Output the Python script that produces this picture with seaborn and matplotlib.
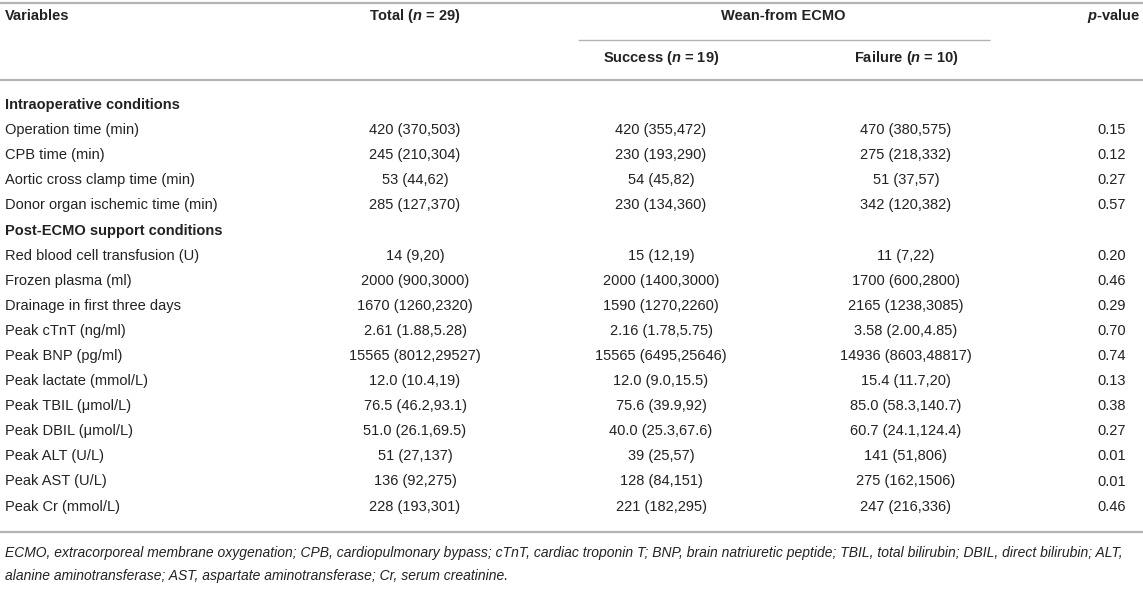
import matplotlib
matplotlib.use('Agg')
import matplotlib.pyplot as plt
import seaborn as sns

# Table: ECMO weaning outcomes, intraoperative and post-ECMO conditions

sections = ['Intraoperative conditions', 'Post-ECMO support conditions']

intra_vars = ['Operation time (min)', 'CPB time (min)',
              'Aortic cross clamp time (min)', 'Donor organ ischemic time (min)']
intra_total = ['420 (370,503)', '245 (210,304)', '53 (44,62)', '285 (127,370)']
intra_success = ['420 (355,472)', '230 (193,290)', '54 (45,82)', '230 (134,360)']
intra_failure = ['470 (380,575)', '275 (218,332)', '51 (37,57)', '342 (120,382)']
intra_p = ['0.15', '0.12', '0.27', '0.57']

post_vars = ['Red blood cell transfusion (U)', 'Frozen plasma (ml)',
             'Drainage in first three days', 'Peak cTnT (ng/ml)', 'Peak BNP (pg/ml)',
             'Peak lactate (mmol/L)', 'Peak TBIL (\u03bcmol/L)', 'Peak DBIL (\u03bcmol/L)',
             'Peak ALT (U/L)', 'Peak AST (U/L)', 'Peak Cr (mmol/L)']
post_total = ['14 (9,20)', '2000 (900,3000)', '1670 (1260,2320)', '2.61 (1.88,5.28)',
              '15565 (8012,29527)', '12.0 (10.4,19)', '76.5 (46.2,93.1)',
              '51.0 (26.1,69.5)', '51 (27,137)', '136 (92,275)', '228 (193,301)']
post_success = ['15 (12,19)', '2000 (1400,3000)', '1590 (1270,2260)', '2.16 (1.78,5.75)',
                '15565 (6495,25646)', '12.0 (9.0,15.5)', '75.6 (39.9,92)',
                '40.0 (25.3,67.6)', '39 (25,57)', '128 (84,151)', '221 (182,295)']
post_failure = ['11 (7,22)', '1700 (600,2800)', '2165 (1238,3085)', '3.58 (2.00,4.85)',
                '14936 (8603,48817)', '15.4 (11.7,20)', '85.0 (58.3,140.7)',
                '60.7 (24.1,124.4)', '141 (51,806)', '275 (162,1506)', '247 (216,336)']
post_p = ['0.20', '0.46', '0.29', '0.70', '0.74', '0.13', '0.38', '0.27', '0.01',
          '0.01', '0.46']

footnote = ['ECMO, extracorporeal membrane oxygenation; CPB, cardiopulmonary bypass; '
            'cTnT, cardiac troponin T; BNP, brain natriuretic peptide; TBIL, total bilirubin; '
            'DBIL, direct bilirubin; ALT,',
            'alanine aminotransferase; AST, aspartate aminotransferase; Cr, serum creatinine.']

sns.set_theme(style='white')
plt.rcParams['font.family'] = ['Liberation Sans', 'DejaVu Sans']
plt.rcParams['mathtext.fontset'] = 'custom'
plt.rcParams['mathtext.it'] = 'Liberation Sans:italic:bold'
plt.rcParams['mathtext.rm'] = 'Liberation Sans:bold'

W, H = 1143, 594
fig = plt.figure(figsize=(W / 100, H / 100), dpi=100)
ax = fig.add_axes([0, 0, 1, 1])
ax.set_xlim(0, W)
ax.set_ylim(H, 0)
ax.axis('off')

txt = '#222222'
rule = '#b3b3b3'
fs = 10.5

# column positions (pixels)
x_var = 5
x_total, x_succ, x_fail, x_p = 415, 661, 906, 1112

# header
hd = dict(va='center', fontsize=fs, fontweight='bold', color=txt)
ax.text(x_var, 16, 'Variables', ha='left', **hd)
ax.text(x_total, 16, 'Total ($n$ = 29)', ha='center', **hd)
ax.text((x_succ + x_fail) / 2, 16, 'Wean-from ECMO', ha='center', **hd)
ax.text(1140, 16, '$p$-value', ha='right', **hd)
ax.text(x_succ, 58, 'Success ($n$ = 19)', ha='center', **hd)
ax.text(x_fail, 58, 'Failure ($n$ = 10)', ha='center', **hd)

ax.plot([0, W], [3, 3], color=rule, lw=1.6, solid_capstyle='butt')
ax.plot([578, 990], [40, 40], color=rule, lw=1.0, solid_capstyle='butt')
ax.plot([0, W], [80, 80], color=rule, lw=1.6, solid_capstyle='butt')

y0, step = 105, 25.1
blocks = [
    (sections[0], intra_vars, intra_total, intra_success, intra_failure, intra_p),
    (sections[1], post_vars, post_total, post_success, post_failure, post_p),
]
bd = dict(va='center', fontsize=fs, color=txt)
i = 0
for title, names, tot, suc, fai, pv in blocks:
    y = y0 + i * step
    ax.text(x_var, y, title, ha='left', fontweight='bold', **bd)
    i += 1
    for n, a, b, c, p in zip(names, tot, suc, fai, pv):
        y = y0 + i * step
        ax.text(x_var, y, n, ha='left', **bd)
        ax.text(x_total, y, a, ha='center', **bd)
        ax.text(x_succ, y, b, ha='center', **bd)
        ax.text(x_fail, y, c, ha='center', **bd)
        ax.text(x_p, y, p, ha='center', **bd)
        i += 1

ax.plot([0, W], [532, 532], color=rule, lw=1.6, solid_capstyle='butt')

for k, line in enumerate(footnote):
    ax.text(x_var, 553 + k * 23, line, ha='left', va='center', fontsize=10.0,
            style='italic', color=txt)

fig.savefig('out.png', dpi=100)
